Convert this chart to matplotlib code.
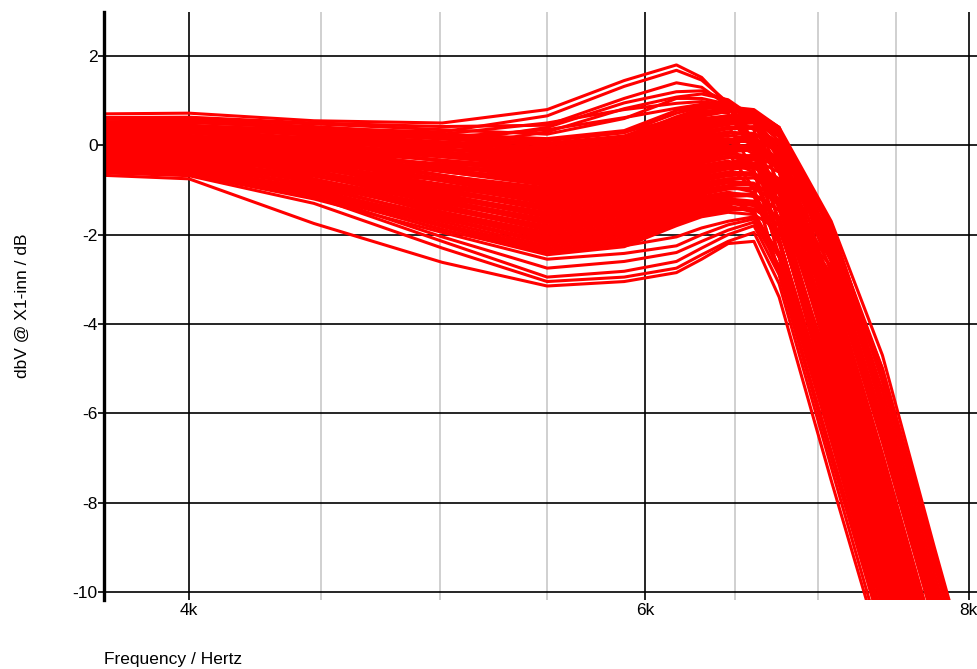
import matplotlib
matplotlib.use('Agg')
import matplotlib.pyplot as plt
from matplotlib.ticker import FixedLocator, FixedFormatter, NullFormatter

# frequencias dos pontos lidos (Hz)
freq_hz = [3630, 4000, 4470, 5010, 5500, 5890, 6170, 6310, 6460, 6610, 6760, 7080, 7410, 7760, 8130]

# curvas de maior pico
mc01 = [0.70, 0.72, 0.55, 0.50, 0.80, 1.45, 1.80, 1.52, 0.90, -0.05, -1.40, -5.2, -9.3, -13.4, -17.5]
mc02 = [0.48, 0.52, 0.38, 0.30, 0.66, 1.32, 1.68, 1.46, 0.95, 0.10, -1.10, -4.9, -9.0, -13.1, -17.2]
mc03 = [0.40, 0.45, 0.22, 0.05, 0.40, 0.95, 1.20, 1.22, 1.00, 0.50, -0.30, -3.6, -7.6, -11.7, -15.8]
mc04 = [0.30, 0.36, 0.15, -0.05, 0.30, 0.82, 1.08, 1.15, 1.02, 0.62, -0.10, -3.2, -7.2, -11.3, -15.4]
mc05 = [0.52, 0.55, 0.42, 0.25, 0.50, 0.80, 0.94, 0.98, 0.90, 0.55, -0.20, -3.5, -7.5, -11.6, -15.7]
mc06 = [0.35, 0.40, 0.30, 0.18, 0.35, 0.62, 0.83, 0.92, 0.90, 0.70, 0.20, -2.6, -6.4, -10.5, -14.6]
mc89 = [0.58, 0.58, 0.48, 0.35, 0.25, 0.60, 1.05, 1.05, 0.92, 0.55, -0.96, -4.84, -8.8, -12.9, -16.9]
mc90 = [0.62, 0.63, 0.50, 0.42, 0.45, 1.05, 1.40, 1.30, 0.88, -0.15, -2.10, -6.1, -10.0, -14.1, -18.1]
# curvas da borda direita
mc07 = [0.10, 0.15, 0.05, -0.05, 0.12, 0.30, 0.58, 0.68, 0.76, 0.76, 0.40, -1.7, -4.7, -9.0, -13.2]
mc08 = [0.00, 0.05, -0.10, -0.25, -0.10, 0.12, 0.42, 0.55, 0.65, 0.64, 0.22, -1.9, -5.0, -9.2, -13.4]
mc09 = [-0.15, -0.12, -0.35, -0.55, -0.50, -0.32, 0.05, 0.22, 0.40, 0.42, 0.05, -2.3, -5.5, -9.6, -13.7]
mc91 = [-0.35, -0.38, -0.53, -0.77, -0.95, -0.77, -0.30, -0.10, 0.05, 0.12, -0.10, -2.1, -5.0, -9.1, -13.2]
mc92 = [0.20, 0.19, 0.08, -0.08, -0.20, -0.02, 0.40, 0.55, 0.66, 0.70, 0.30, -1.8, -5.2, -9.3, -13.3]
mc84 = [0.37, 0.36, 0.27, 0.15, 0.05, 0.21, 0.62, 0.74, 0.80, 0.74, 0.36, -1.8, -5.2, -9.3, -13.3]
mc87 = [-0.25, -0.29, -0.48, -0.78, -1.00, -0.82, -0.35, -0.15, -0.05, 0.00, -0.35, -1.95, -5.2, -9.3, -13.3]
# miolo
mc10 = [0.50, 0.51, 0.40, 0.25, 0.15, 0.33, 0.78, 0.88, 0.86, 0.60, 0.10, -3.5, -7.45, -11.5, -15.5]
mc11 = [0.45, 0.45, 0.32, 0.14, 0.00, 0.18, 0.64, 0.82, 0.85, 0.65, -0.96, -4.65, -8.65, -12.7, -16.7]
mc12 = [0.42, 0.41, 0.23, -0.01, -0.20, -0.02, 0.45, 0.65, 0.76, 0.72, 0.35, -2.85, -6.6, -10.7, -14.7]
mc13 = [0.38, 0.38, 0.25, 0.08, -0.05, 0.13, 0.60, 0.78, 0.72, -0.15, -2.10, -6.25, -10.2, -14.3, -18.3]
mc14 = [0.35, 0.33, 0.14, -0.14, -0.35, -0.17, 0.30, 0.50, 0.62, 0.55, -0.20, -4.15, -8.15, -12.2, -16.2]
mc15 = [0.32, 0.30, 0.07, -0.25, -0.50, -0.32, 0.15, 0.35, 0.47, 0.50, 0.20, -2.5, -6.2, -10.3, -14.3]
mc16 = [0.28, 0.28, 0.12, -0.09, -0.25, -0.07, 0.40, 0.60, 0.66, 0.35, -1.34, -5.45, -9.4, -13.5, -17.5]
mc17 = [0.25, 0.22, -0.01, -0.35, -0.60, -0.42, 0.05, 0.25, 0.37, 0.38, 0.00, -3.4, -7.35, -11.4, -15.4]
mc18 = [0.22, 0.18, -0.07, -0.46, -0.75, -0.57, -0.10, 0.10, 0.22, 0.15, -0.60, -4.25, -8.2, -12.3, -16.3]
mc19 = [0.20, 0.19, 0.00, -0.26, -0.45, -0.27, 0.20, 0.40, 0.52, 0.58, 0.30, -2.1, -5.75, -9.85, -13.9]
mc20 = [0.16, 0.12, -0.16, -0.58, -0.90, -0.72, -0.25, -0.05, 0.07, -0.10, -1.72, -5.55, -9.45, -13.5, -17.5]
mc21 = [0.12, 0.10, -0.13, -0.45, -0.70, -0.52, -0.05, 0.15, 0.27, 0.27, -0.10, -3.75, -7.75, -11.8, -15.8]
mc22 = [0.10, 0.05, -0.23, -0.67, -1.00, -0.82, -0.35, -0.15, -0.03, 0.00, -0.35, -3.1, -6.95, -11.0, -15.0]
mc23 = [0.06, 0.01, -0.30, -0.79, -1.15, -0.97, -0.50, -0.30, -0.18, -0.25, -1.00, -4.95, -8.95, -13.0, -17.0]
mc24 = [0.03, 0.00, -0.23, -0.59, -0.85, -0.67, -0.20, 0.00, 0.12, 0.16, -0.15, -2.4, -6.15, -10.2, -14.2]
mc25 = [0.00, -0.05, -0.39, -0.91, -1.30, -1.12, -0.65, -0.45, -0.35, -0.60, -2.10, -5.95, -9.85, -13.9, -17.9]
mc26 = [-0.03, -0.07, -0.34, -0.74, -1.05, -0.87, -0.40, -0.20, -0.08, -0.10, -0.50, -3.85, -7.85, -11.9, -15.9]
mc27 = [-0.06, -0.12, -0.48, -1.03, -1.45, -1.27, -0.80, -0.60, -0.48, -0.45, -0.80, -3.2, -7.05, -11.1, -15.1]
mc28 = [-0.10, -0.14, -0.43, -0.87, -1.20, -1.02, -0.55, -0.35, -0.24, -0.40, -1.40, -5.15, -9.05, -13.1, -17.1]
mc29 = [-0.12, -0.18, -0.56, -1.16, -1.60, -1.42, -0.95, -0.75, -0.63, -0.62, -1.00, -4.55, -8.55, -12.6, -16.6]
mc30 = [-0.15, -0.20, -0.51, -0.99, -1.35, -1.17, -0.70, -0.50, -0.38, -0.32, -0.60, -2.75, -6.55, -10.6, -14.6]
mc31 = [-0.18, -0.24, -0.65, -1.28, -1.75, -1.57, -1.10, -0.90, -0.80, -0.85, -1.75, -5.85, -9.75, -13.8, -17.8]
mc32 = [-0.22, -0.27, -0.60, -1.12, -1.50, -1.32, -0.85, -0.65, -0.53, -0.50, -0.85, -3.5, -7.45, -11.5, -15.5]
mc33 = [-0.25, -0.32, -0.75, -1.41, -1.90, -1.72, -1.25, -1.05, -0.95, -0.97, -1.30, -4.7, -8.7, -12.8, -16.8]
mc34 = [-0.28, -0.33, -0.69, -1.24, -1.65, -1.47, -1.00, -0.80, -0.68, -0.65, -1.00, -2.9, -6.65, -10.7, -14.7]
mc35 = [-0.32, -0.39, -0.82, -1.50, -2.00, -1.82, -1.35, -1.15, -1.05, -1.15, -2.20, -6.2, -10.1, -14.2, -18.2]
mc36 = [-0.35, -0.41, -0.79, -1.37, -1.80, -1.62, -1.15, -0.95, -0.84, -0.85, -1.20, -4.1, -8.1, -12.2, -16.2]
mc37 = [-0.38, -0.45, -0.91, -1.62, -2.15, -1.97, -1.50, -1.30, -1.20, -1.25, -1.60, -5.4, -9.3, -13.4, -17.4]
mc38 = [-0.42, -0.48, -0.88, -1.49, -1.95, -1.77, -1.30, -1.10, -0.98, -0.95, -1.30, -3.5, -7.3, -11.4, -15.4]
mc39 = [-0.45, -0.52, -0.99, -1.71, -2.25, -2.07, -1.60, -1.40, -1.30, -1.35, -1.80, -5.6, -9.5, -13.6, -17.6]
mc40 = [-0.48, -0.54, -0.95, -1.58, -2.05, -1.87, -1.40, -1.20, -1.08, -1.10, -1.45, -4.3, -8.3, -12.4, -16.4]
mc41 = [-0.52, -0.59, -1.05, -1.77, -2.30, -2.12, -1.65, -1.45, -1.35, -1.50, -2.50, -6.4, -10.3, -14.4, -18.4]
mc42 = [0.05, 0.04, -0.12, -0.34, -0.50, -0.32, 0.15, 0.35, 0.48, 0.55, 0.25, -1.85, -5.3, -9.4, -13.4]
mc43 = [-0.05, -0.09, -0.32, -0.68, -0.95, -0.77, -0.30, -0.10, 0.00, -0.55, -2.50, -6.6, -10.55, -14.6, -18.6]
mc44 = [-0.20, -0.24, -0.52, -0.94, -1.25, -1.07, -0.60, -0.40, -0.28, -0.22, -0.50, -2.2, -5.9, -10.0, -14.0]
mc45 = [0.15, 0.15, 0.02, -0.17, -0.30, -0.12, 0.35, 0.55, 0.65, 0.55, -0.30, -4.5, -8.5, -12.6, -16.6]
mc52 = [0.45, 0.43, 0.35, 0.20, 0.10, 0.28, 0.72, 0.85, 0.86, 0.80, 0.40, -2.55, -6.3, -10.4, -14.4]
mc53 = [0.40, 0.38, 0.25, 0.05, -0.10, 0.08, 0.55, 0.75, 0.82, 0.60, -0.58, -4.35, -8.3, -12.4, -16.4]
mc54 = [0.36, 0.32, 0.13, -0.17, -0.40, -0.22, 0.25, 0.45, 0.55, 0.62, 0.35, -1.95, -5.5, -9.6, -13.6]
mc55 = [0.33, 0.28, 0.04, -0.36, -0.65, -0.47, 0.00, 0.20, 0.30, 0.20, -1.34, -5.2, -9.1, -13.2, -17.2]
mc56 = [0.30, 0.29, 0.17, 0.00, -0.15, 0.03, 0.50, 0.70, 0.80, 0.75, 0.40, -3.2, -7.1, -11.2, -15.2]
mc57 = [0.27, 0.22, -0.07, -0.51, -0.85, -0.67, -0.20, 0.00, 0.10, 0.08, -0.30, -3.95, -7.9, -12.0, -16.0]
mc58 = [0.24, 0.21, 0.05, -0.21, -0.40, -0.22, 0.25, 0.45, 0.45, -0.58, -2.48, -6.45, -10.35, -14.4, -18.4]
mc59 = [0.21, 0.15, -0.17, -0.67, -1.05, -0.87, -0.40, -0.20, -0.10, -0.05, -0.40, -2.6, -6.3, -10.4, -14.4]
mc60 = [0.18, 0.14, -0.04, -0.33, -0.55, -0.37, 0.10, 0.30, 0.40, 0.40, 0.05, -3.6, -7.55, -11.6, -15.6]
mc61 = [0.14, 0.07, -0.26, -0.80, -1.20, -1.02, -0.55, -0.35, -0.25, -0.28, -0.96, -4.9, -8.9, -12.95, -16.95]
mc62 = [0.11, 0.09, -0.03, -0.21, -0.35, -0.17, 0.30, 0.50, 0.60, 0.65, 0.30, -2.25, -5.95, -10.05, -14.05]
mc63 = [0.08, 0.04, -0.18, -0.54, -0.80, -0.62, -0.15, 0.05, 0.15, 0.05, -1.72, -5.75, -9.65, -13.7, -17.7]
mc64 = [0.04, -0.03, -0.39, -0.97, -1.40, -1.22, -0.75, -0.55, -0.45, -0.42, -0.78, -3.05, -6.9, -11.0, -15.0]
mc65 = [0.01, -0.02, -0.19, -0.45, -0.65, -0.47, 0.00, 0.20, 0.30, 0.25, -0.58, -4.5, -8.45, -12.5, -16.5]
mc66 = [-0.02, -0.10, -0.48, -1.09, -1.55, -1.37, -0.90, -0.70, -0.60, -0.65, -1.34, -5.3, -9.25, -13.3, -17.3]
mc67 = [-0.05, -0.10, -0.37, -0.79, -1.10, -0.92, -0.45, -0.25, -0.15, -0.10, -0.45, -2.05, -5.7, -9.8, -13.8]
mc68 = [-0.08, -0.16, -0.57, -1.21, -1.70, -1.52, -1.05, -0.85, -0.75, -0.73, -1.08, -3.75, -7.7, -11.8, -15.8]
mc69 = [-0.11, -0.14, -0.30, -0.56, -0.75, -0.57, -0.10, 0.10, 0.15, -0.20, -2.10, -6.0, -9.9, -14.0, -18.0]
mc70 = [-0.14, -0.23, -0.65, -1.34, -1.85, -1.67, -1.20, -1.00, -0.90, -0.87, -1.22, -2.95, -6.45, -10.55, -14.55]
mc71 = [-0.17, -0.22, -0.48, -0.89, -1.20, -1.02, -0.55, -0.35, -0.25, -0.28, -0.96, -4.75, -8.75, -12.85, -16.85]
mc72 = [-0.20, -0.29, -0.76, -1.50, -2.05, -1.87, -1.40, -1.20, -1.10, -1.10, -1.45, -4.05, -8.05, -12.15, -16.15]
mc73 = [-0.23, -0.29, -0.58, -1.05, -1.40, -1.22, -0.75, -0.55, -0.50, -0.96, -2.86, -6.85, -10.7, -14.8, -18.8]
mc74 = [-0.26, -0.35, -0.81, -1.55, -2.10, -1.92, -1.45, -1.25, -1.15, -1.12, -1.45, -2.7, -6.1, -10.2, -14.2]
mc75 = [-0.30, -0.36, -0.68, -1.18, -1.55, -1.37, -0.90, -0.70, -0.60, -0.62, -0.98, -4.35, -8.35, -12.45, -16.45]
mc76 = [-0.33, -0.42, -0.89, -1.64, -2.20, -2.02, -1.55, -1.35, -1.25, -1.30, -1.80, -5.6, -9.55, -13.6, -17.6]
mc77 = [-0.36, -0.43, -0.76, -1.30, -1.70, -1.52, -1.05, -0.85, -0.75, -0.72, -1.07, -3.15, -7.0, -11.1, -15.1]
mc78 = [-0.40, -0.50, -0.99, -1.77, -2.35, -2.17, -1.70, -1.50, -1.40, -1.42, -1.80, -4.95, -8.9, -13.0, -17.0]
mc79 = [-0.44, -0.51, -0.86, -1.43, -1.85, -1.67, -1.20, -1.00, -0.92, -1.05, -2.10, -6.05, -9.95, -14.05, -18.05]
mc80 = [-0.47, -0.57, -1.05, -1.82, -2.40, -2.22, -1.75, -1.55, -1.45, -1.43, -1.78, -3.4, -7.3, -11.4, -15.4]
mc81 = [-0.50, -0.58, -1.00, -1.66, -2.15, -1.97, -1.50, -1.30, -1.25, -1.45, -2.86, -6.9, -10.75, -14.85, -18.85]
mc82 = [-0.54, -0.64, -1.11, -1.88, -2.45, -2.27, -1.80, -1.60, -1.50, -1.55, -1.90, -5.15, -9.1, -13.2, -17.2]
mc83 = [0.44, 0.40, 0.22, -0.08, -0.30, -0.12, 0.35, 0.55, 0.62, 0.15, -1.72, -5.6, -9.5, -13.6, -17.6]
mc85 = [0.26, 0.19, -0.15, -0.69, -1.10, -0.92, -0.45, -0.25, -0.18, -0.96, -2.86, -7.0, -10.9, -15.0, -19.0]
mc86 = [-0.08, -0.10, -0.22, -0.41, -0.55, -0.37, 0.10, 0.30, 0.40, 0.40, 0.05, -3.25, -7.15, -11.25, -15.25]
mc88 = [-0.38, -0.43, -0.67, -1.06, -1.35, -1.17, -0.70, -0.50, -0.40, -0.40, -0.75, -3.7, -7.65, -11.7, -15.7]
# curvas de baixo
mc46 = [-0.65, -0.75, -1.75, -2.62, -3.15, -3.05, -2.85, -2.55, -2.20, -2.15, -3.40, -7.5, -11.4, -15.5, -19.6]
mc47 = [-0.60, -0.68, -1.30, -2.30, -3.05, -2.95, -2.75, -2.45, -2.15, -1.95, -3.10, -7.2, -11.2, -15.3, -19.4]
mc48 = [-0.55, -0.62, -1.15, -2.15, -2.95, -2.82, -2.60, -2.30, -2.00, -1.80, -2.90, -6.9, -10.9, -15.0, -19.0]
mc49 = [-0.50, -0.58, -1.10, -2.05, -2.75, -2.60, -2.40, -2.15, -1.90, -1.72, -2.70, -6.6, -10.6, -14.7, -18.8]
mc50 = [-0.58, -0.65, -1.20, -1.95, -2.55, -2.42, -2.25, -2.00, -1.78, -1.65, -2.50, -6.3, -10.3, -14.4, -18.5]
mc51 = [-0.45, -0.55, -1.05, -1.90, -2.40, -2.25, -2.05, -1.85, -1.70, -1.60, -2.40, -6.1, -10.1, -14.2, -18.3]

runs = [mc01, mc02, mc03, mc04, mc05, mc06, mc89, mc90, mc07, mc08, mc09, mc91, mc92, mc84, mc87,
        mc10, mc11, mc12, mc13, mc14, mc15, mc16, mc17, mc18, mc19, mc20, mc21, mc22, mc23,
        mc24, mc25, mc26, mc27, mc28, mc29, mc30, mc31, mc32, mc33, mc34, mc35, mc36, mc37,
        mc38, mc39, mc40, mc41, mc42, mc43, mc44, mc45, mc52, mc53, mc54, mc55, mc56, mc57,
        mc58, mc59, mc60, mc61, mc62, mc63, mc64, mc65, mc66, mc67, mc68, mc69, mc70, mc71,
        mc72, mc73, mc74, mc75, mc76, mc77, mc78, mc79, mc80, mc81, mc82, mc83, mc85, mc86,
        mc88, mc46, mc47, mc48, mc49, mc50, mc51]

major_ticks = [4000, 6000, 8000]
major_labels = ['4k', '6k', '8k']
minor_ticks = [4500, 5000, 5500, 6500, 7000, 7500]
y_ticks = [-10, -8, -6, -4, -2, 0, 2]

plt.rcParams['font.family'] = ['Liberation Sans', 'DejaVu Sans']
plt.rcParams['font.size'] = 12.5

fig = plt.figure(figsize=(9.77, 6.69), dpi=100)
ax = fig.add_axes([104 / 977, 69 / 669, 906 / 977, 588 / 669])

for run in runs:
    ax.plot(freq_hz, run, color='#ff0000', lw=2.2)

ax.set_xscale('log')
ax.set_xlim(3709, 8300)
ax.set_ylim(-10.18, 2.985)

ax.xaxis.set_major_locator(FixedLocator(major_ticks))
ax.xaxis.set_major_formatter(FixedFormatter(major_labels))
ax.xaxis.set_minor_locator(FixedLocator(minor_ticks))
ax.xaxis.set_minor_formatter(NullFormatter())
ax.set_yticks(y_ticks)
ax.set_yticklabels([str(v) for v in y_ticks])

ax.set_axisbelow(True)
ax.grid(which='major', color='black', lw=1.2)
ax.grid(which='minor', axis='x', color='#c8c8c8', lw=1.2)

for s in ['top', 'right', 'bottom']:
    ax.spines[s].set_visible(False)
ax.spines['left'].set_linewidth(2.4)
ax.spines['left'].set_color('black')

ax.tick_params(axis='x', which='both', length=0, pad=2)
ax.tick_params(axis='y', length=4, width=1.2, pad=0.5)

fig.text(104 / 977, 1 - 664 / 669, 'Frequency / Hertz', ha='left', va='baseline')
fig.text(22 / 977, 1 - 306 / 669, 'dbV @ X1-inn / dB', rotation=90, ha='center', va='center')

fig.savefig('out.png', dpi=100)
